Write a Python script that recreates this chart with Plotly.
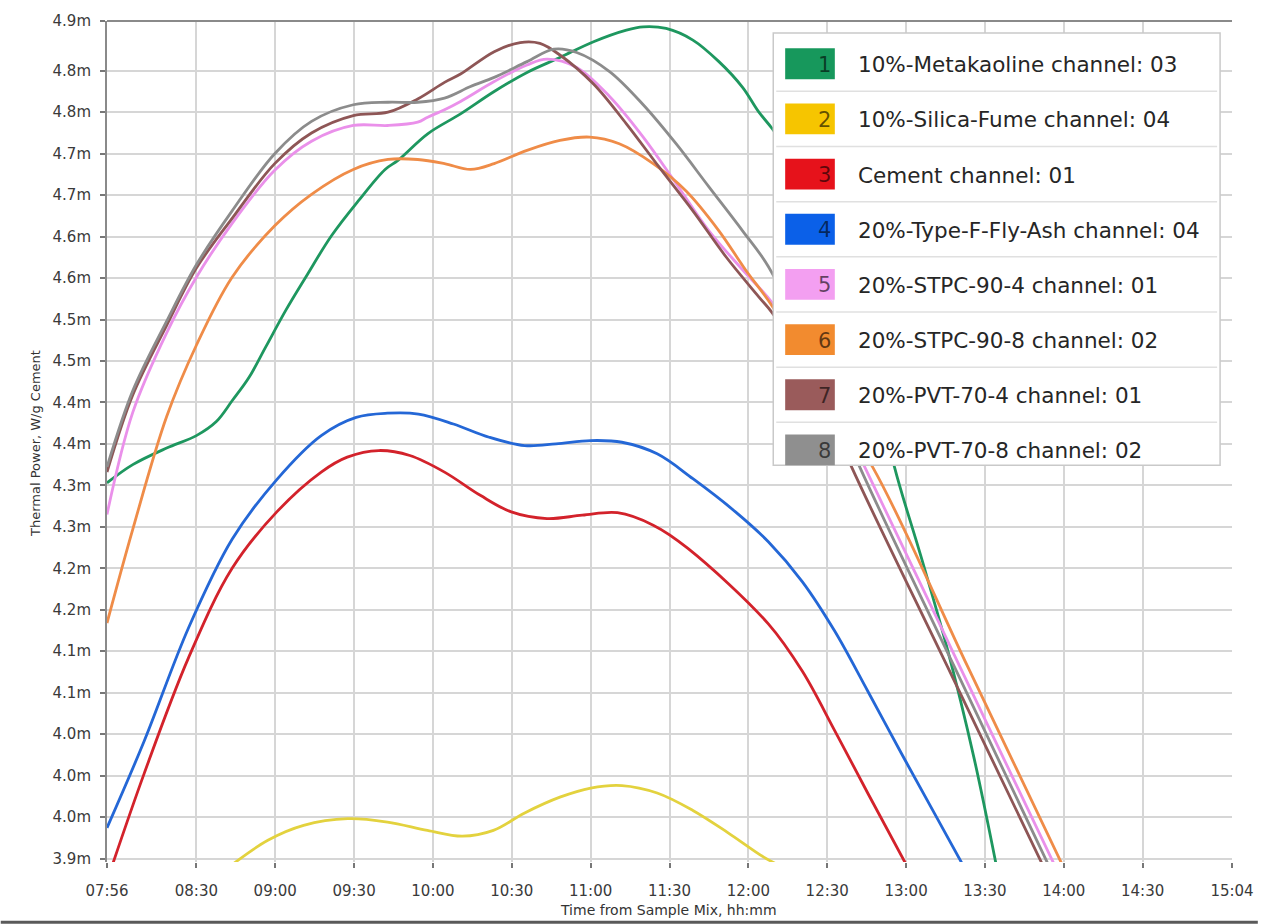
import plotly.graph_objects as go

# ---------------- data (time in minutes on the hh:mm clock, power in mW/g) ----------------
names = [
    "10%-Metakaoline channel: 03",
    "10%-Silica-Fume channel: 04",
    "Cement channel: 01",
    "20%-Type-F-Fly-Ash channel: 04",
    "20%-STPC-90-4 channel: 01",
    "20%-STPC-90-8 channel: 02",
    "20%-PVT-70-4 channel: 01",
    "20%-PVT-70-8 channel: 02",
]
line_colors = ["#1e975f", "#e3d23e", "#d3222b", "#2467d6", "#ea90ea", "#ef8c48", "#8e5656", "#8c8c8c"]
box_colors = ["#17985c", "#f6c500", "#e6121b", "#0b60e8", "#f39ff1", "#f28b2f", "#9a5b5b", "#8f8f8f"]

metakaoline_t = [476.0, 485.8, 498.7, 510.0, 517.6, 523.6, 530.0, 536.4, 544.0, 551.6, 561.4, 571.6,
                 581.8, 586.7, 598.0, 610.5, 623.3, 635.8, 648.3, 661.1, 673.6, 680.0, 688.7, 698.9,
                 708.8, 717.8, 723.8, 729.1, 737.8, 749.1, 760.5, 768.0, 775.6, 785.7, 795.6, 805.8, 814.5]
metakaoline_v = [4.353, 4.375, 4.395, 4.410, 4.427, 4.452, 4.480, 4.517, 4.561, 4.601, 4.651, 4.693,
                 4.731, 4.742, 4.774, 4.798, 4.825, 4.848, 4.866, 4.885, 4.899, 4.903, 4.901, 4.887,
                 4.861, 4.830, 4.801, 4.780, 4.738, 4.666, 4.570, 4.480, 4.372, 4.264, 4.154, 4.022, 3.889]

silica_t = [522.1, 537.2, 550.8, 567.6, 582.7, 597.9, 611.2, 623.0, 634.9, 648.3, 660.0, 671.9,
            685.3, 698.9, 712.3, 725.7, 732.8]
silica_v = [3.889, 3.922, 3.940, 3.948, 3.944, 3.934, 3.927, 3.934, 3.955, 3.974, 3.985, 3.988,
            3.979, 3.958, 3.931, 3.902, 3.890]

cement_t = [476.0, 490.2, 507.0, 523.6, 540.6, 557.5, 567.4, 579.4, 591.2, 604.4, 618.0, 629.8,
            643.4, 656.8, 670.2, 683.8, 697.0, 727.6, 740.5, 752.9, 765.4, 780.5]
cement_v = [3.873, 4.003, 4.142, 4.250, 4.318, 4.366, 4.384, 4.392, 4.386, 4.366, 4.338, 4.318,
            4.310, 4.314, 4.317, 4.302, 4.274, 4.183, 4.126, 4.054, 3.979, 3.890]

flyash_t = [476.0, 490.2, 507.0, 523.6, 540.6, 557.5, 570.8, 582.7, 594.5, 607.8, 621.4, 634.9,
            646.8, 660.0, 671.9, 685.3, 698.9, 715.1, 727.6, 740.5, 752.9, 765.4, 778.2, 790.7, 802.0]
flyash_v = [3.937, 4.042, 4.178, 4.285, 4.357, 4.410, 4.432, 4.437, 4.436, 4.424, 4.408, 4.398,
            4.400, 4.404, 4.402, 4.388, 4.358, 4.318, 4.282, 4.234, 4.174, 4.102, 4.027, 3.955, 3.890]

stpc4_t = [476.0, 485.8, 498.7, 510.0, 523.6, 539.8, 553.8, 569.7, 582.9, 594.2, 598.0, 604.4,
           610.5, 623.3, 635.8, 643.4, 654.7, 667.2, 680.0, 692.5, 705.0, 717.8, 729.1, 747.2, 764.3,
           800.5, 836.8]
stpc4_v = [4.315, 4.438, 4.534, 4.601, 4.666, 4.730, 4.765, 4.784, 4.784, 4.788, 4.794, 4.803,
           4.813, 4.837, 4.857, 4.864, 4.854, 4.819, 4.770, 4.714, 4.657, 4.610, 4.570, 4.480, 4.372,
           4.131, 3.890]

stpc8_t = [476.0, 485.8, 498.7, 510.0, 523.6, 539.8, 553.8, 569.7, 582.9, 594.2, 604.4, 614.3,
           623.3, 635.8, 648.3, 659.6, 670.9, 683.8, 696.3, 708.8, 718.9, 729.1, 747.2, 767.3,
           803.5, 839.8]
stpc8_v = [4.184, 4.297, 4.433, 4.519, 4.601, 4.663, 4.701, 4.731, 4.743, 4.743, 4.738, 4.731,
           4.738, 4.754, 4.766, 4.770, 4.762, 4.738, 4.705, 4.657, 4.610, 4.566, 4.468, 4.372,
           4.131, 3.890]

pvt4_t = [476.0, 485.8, 498.7, 510.0, 523.6, 539.8, 553.8, 569.7, 582.9, 594.2, 604.4, 610.5,
          623.3, 633.2, 640.7, 648.3, 661.1, 673.6, 686.0, 698.9, 711.4, 723.8, 729.1, 745.4, 759.3,
          795.8, 832.3]
pvt4_v = [4.366, 4.459, 4.543, 4.612, 4.672, 4.738, 4.775, 4.796, 4.800, 4.816, 4.836, 4.846,
          4.873, 4.884, 4.883, 4.869, 4.834, 4.786, 4.734, 4.681, 4.626, 4.578, 4.558, 4.474, 4.372,
          4.131, 3.890]

pvt8_t = [476.0, 485.8, 498.7, 510.0, 523.6, 539.8, 553.8, 569.7, 582.9, 594.2, 604.4, 614.3,
          623.3, 635.8, 646.0, 654.7, 667.2, 680.0, 692.5, 705.0, 717.8, 727.6, 745.4, 762.4,
          798.4, 834.5]
pvt8_v = [4.372, 4.464, 4.548, 4.616, 4.681, 4.750, 4.789, 4.809, 4.812, 4.812, 4.817, 4.831,
          4.842, 4.861, 4.876, 4.872, 4.849, 4.809, 4.762, 4.710, 4.657, 4.614, 4.498, 4.372,
          4.131, 3.890]

series_t = [metakaoline_t, silica_t, cement_t, flyash_t, stpc4_t, stpc8_t, pvt4_t, pvt8_t]
series_v = [metakaoline_v, silica_v, cement_v, flyash_v, stpc4_v, stpc8_v, pvt4_v, pvt8_v]

x_tickvals = [476, 510, 540, 570, 600, 630, 660, 690, 720, 750, 780, 810, 840, 870, 904]
x_ticktext = ["07:56", "08:30", "09:00", "09:30", "10:00", "10:30", "11:00", "11:30",
              "12:00", "12:30", "13:00", "13:30", "14:00", "14:30", "15:04"]
X_MIN, X_MAX = 476, 904

Y_MIN, Y_MAX = 3.8958, 4.910
y_tickvals = [3.90, 3.95, 4.00, 4.05, 4.10, 4.15, 4.20, 4.25, 4.30, 4.35, 4.40,
              4.45, 4.50, 4.55, 4.60, 4.65, 4.70, 4.75, 4.80, 4.85, Y_MAX]
y_ticktext = ["3.9m", "4.0m", "4.0m", "4.0m", "4.1m", "4.1m", "4.2m", "4.2m", "4.3m", "4.3m", "4.4m",
              "4.4m", "4.5m", "4.5m", "4.6m", "4.6m", "4.7m", "4.7m", "4.8m", "4.8m", "4.9m"]

# ---------------- layout geometry ----------------
W, H = 1266, 924
L, R, T, B = 107, 26, 16, 62
PW, PH = W - L - R, H - T - B
FONT = "DejaVu Sans"


def xp(px):
    return (px - L) / PW


def yp(py):
    return (H - B - py) / PH


fig = go.Figure()
for i in range(len(names)):
    fig.add_trace(go.Scatter(
        x=series_t[i], y=series_v[i], mode="lines", name=names[i],
        line=dict(color=line_colors[i], width=2.8, shape="spline", smoothing=1.0),
        showlegend=False, hoverinfo="skip",
    ))

shapes = []
annotations = []

# top frame line
shapes.append(dict(type="line", xref="paper", yref="paper", x0=0, x1=1, y0=1, y1=1,
                   line=dict(color="#8a8a8a", width=2), layer="above"))

# custom legend (numbered colour boxes)
LX0, LX1, LY0, LY1 = 778, 1228, 28, 463
ROW0, ROWH = 59, 55.5
shapes.append(dict(type="rect", xref="paper", yref="paper",
                   x0=xp(LX0), x1=xp(LX1), y0=yp(LY1), y1=yp(LY0),
                   fillcolor="white", line=dict(color="#c9c9c9", width=1.5), layer="above"))
for i in range(1, len(names)):
    yy = ROW0 + ROWH * (i - 0.5)
    shapes.append(dict(type="line", xref="paper", yref="paper",
                       x0=xp(LX0 + 3), x1=xp(LX1 - 3), y0=yp(yy), y1=yp(yy),
                       line=dict(color="#e0e0e0", width=1.5), layer="above"))
for i, nm in enumerate(names):
    cy = ROW0 + ROWH * i
    shapes.append(dict(type="rect", xref="paper", yref="paper",
                       x0=xp(790), x1=xp(840), y0=yp(cy + 15.5), y1=yp(cy - 15.5),
                       fillcolor=box_colors[i], line=dict(width=0), layer="above"))
    annotations.append(dict(xref="paper", yref="paper", x=xp(838), y=yp(cy + 1), text=str(i + 1),
                            showarrow=False, xanchor="right", yanchor="middle",
                            font=dict(family=FONT, size=21, color="rgba(0,0,0,0.6)")))
    annotations.append(dict(xref="paper", yref="paper", x=xp(861), y=yp(cy + 1), text=nm,
                            showarrow=False, xanchor="left", yanchor="middle",
                            font=dict(family=FONT, size=21.5, color="#262626")))

# axis titles
annotations.append(dict(xref="paper", yref="paper", x=xp(35), y=yp(441),
                        text="Thermal Power, W/g Cement", textangle=-90, showarrow=False,
                        xanchor="center", yanchor="middle",
                        font=dict(family=FONT, size=13, color="#333333")))
annotations.append(dict(xref="paper", yref="paper", x=xp(672), y=yp(920),
                        text="Time from Sample Mix, hh:mm", showarrow=False,
                        xanchor="center", yanchor="bottom",
                        font=dict(family=FONT, size=14, color="#333333")))
# picture bottom border
shapes.append(dict(type="line", xref="paper", yref="paper", x0=xp(0), x1=xp(W), y0=yp(922.5), y1=yp(922.5),
                   line=dict(color="#5a5a5a", width=3), layer="above"))

fig.update_layout(
    width=W, height=H,
    margin=dict(l=L, r=R, t=T, b=B, pad=0),
    paper_bgcolor="white", plot_bgcolor="white",
    showlegend=False,
    shapes=shapes, annotations=annotations,
    xaxis=dict(range=[X_MIN, X_MAX], tickmode="array", tickvals=x_tickvals, ticktext=x_ticktext,
               showgrid=True, gridcolor="#d6d6d6", gridwidth=1.5, zeroline=False, showline=False,
               ticks="outside", ticklen=5, tickcolor="#777777", tickwidth=1.5,
               ticklabelstandoff=10,
               tickfont=dict(family=FONT, size=15, color="#3a3a3a")),
    yaxis=dict(range=[Y_MIN, Y_MAX], tickmode="array", tickvals=y_tickvals, ticktext=y_ticktext,
               showgrid=True, gridcolor="#d6d6d6", gridwidth=1.5, zeroline=False,
               showline=True, linecolor="#8a8a8a", linewidth=2,
               ticks="outside", ticklen=5, tickcolor="#777777", tickwidth=1.5,
               ticklabelstandoff=6,
               tickfont=dict(family=FONT, size=15, color="#3a3a3a")),
)

fig.write_html("out.html")
